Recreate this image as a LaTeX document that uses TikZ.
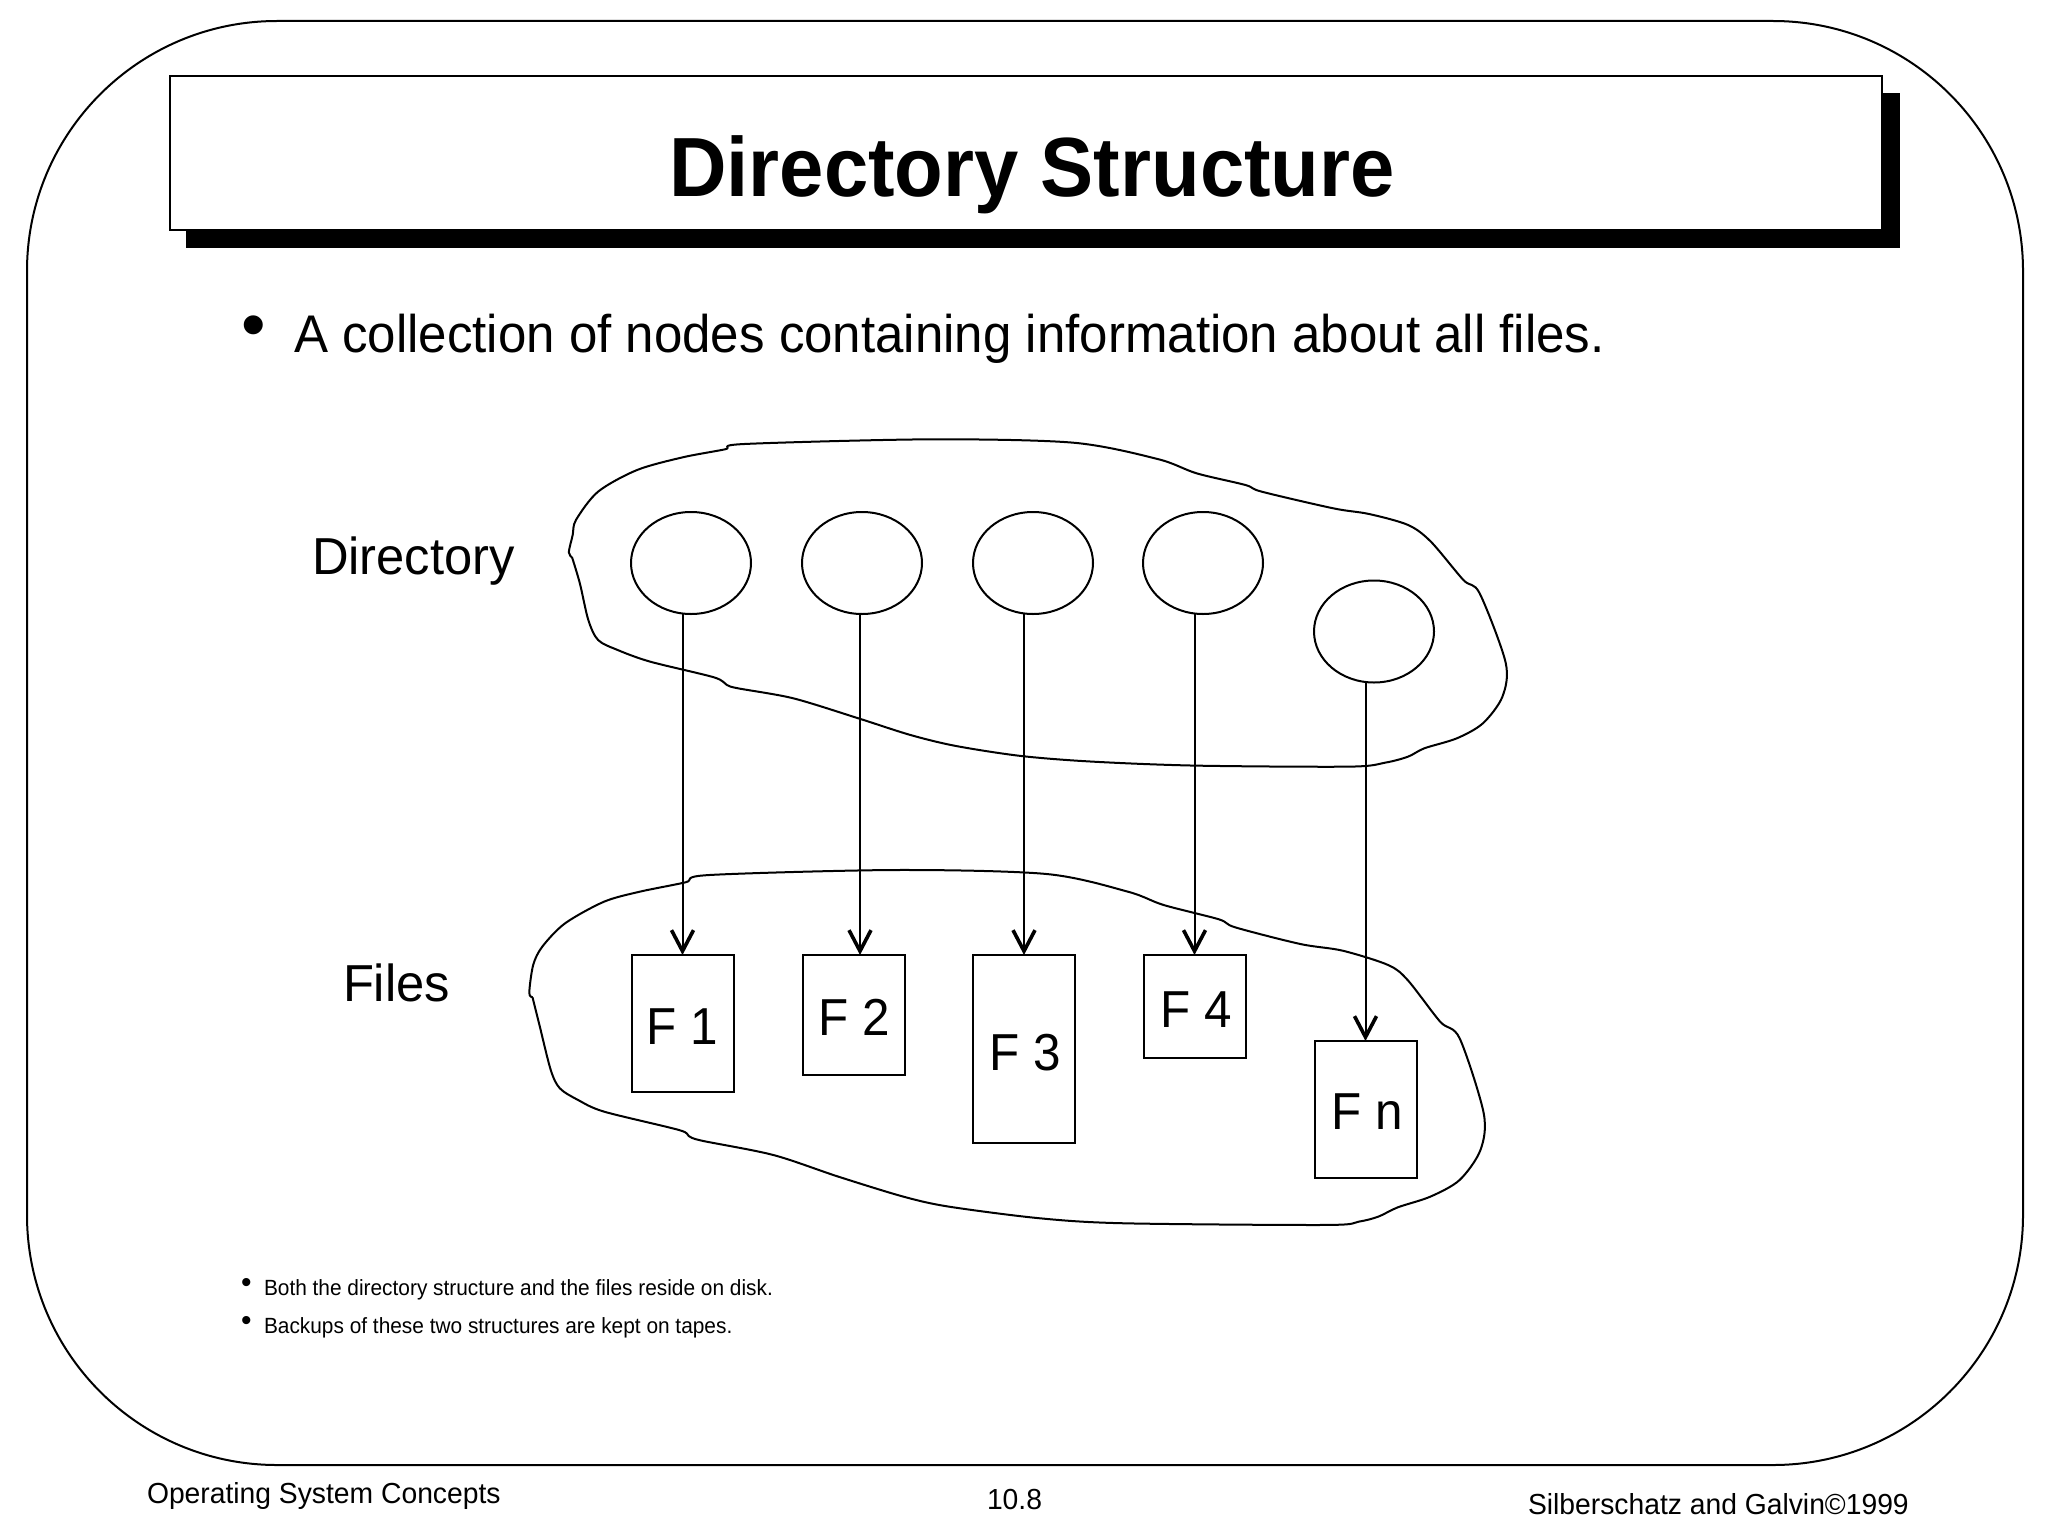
\documentclass[tikz,border=0pt]{standalone}
\usepackage{fontspec}
\setmainfont{Liberation Sans}
\usetikzlibrary{shapes.geometric,arrows.meta}
\newcommand{\fsz}[2]{\fontsize{#1}{#1}\selectfont\addfontfeature{FakeStretch=#2}}
\tikzset{
  txt/.style={inner sep=0pt,outer sep=0pt,anchor=base west},
  ctxt/.style={inner sep=0pt,outer sep=0pt,anchor=base,font=\fsz{52}{0.95}},
  dirnode/.style={ellipse,draw,line width=2pt,minimum width=120pt,minimum height=102pt,inner sep=0pt,outer sep=0pt},
  filebox/.style={rectangle,draw,line width=2pt,inner sep=0pt,outer sep=0pt,minimum width=102pt},
  link/.style={line width=2pt,-{Straight Barb[length=21pt,width=22pt,line width=3.6pt]}},
  framed/.style={line width=2pt}
}
\begin{document}
\begin{tikzpicture}[x=1pt,y=-1pt]
\useasboundingbox (0,0) rectangle (2048,1536);
\fill[white] (0,0) rectangle (2048,1536);
\draw[framed,rounded corners=250pt] (27,21) rectangle (2023,1465);
% title
\fill[black] (185.5,93) rectangle (1900,248);
\draw[framed,fill=white] (169.5,76.5) rectangle (1881.5,229.5);
\node[inner sep=0pt,anchor=base,font=\bfseries\fsz{84}{0.948}] (title) at (1032,196) {Directory Structure};
% main bullet
\node[txt,font=\fsz{70}{1}] (b0) at (241,348) {•};
\node[txt,font=\fsz{53}{0.963}] (t0) at (294,352.5) {A collection of nodes containing information about all files.};
\node[txt,font=\fsz{52}{0.975}] (ldir) at (312,574) {Directory};
\node[txt,font=\fsz{52}{0.975}] (lfil) at (343,1001) {Files};
% blobs
\draw[framed,shift={(520pt,-420pt)},x=0.6506pt,y=-0.3333pt]
 plot[smooth,tension=0.5] coordinates {(80,412) (75,397) (81,345) (86,300) (120,215) (180,150) (250,112) (315,88) (345,72) (630,58) (850,68) (980,117) (1040,160) (1115,195) (1140,215) (1250,265) (1305,282) (1365,315) (1400,365) (1450,480) (1475,520) (1515,728) (1510,830) (1480,910) (1440,955) (1390,985) (1365,1010) (1330,1028) (1275,1040) (1040,1037) (880,1025) (770,1008) (670,978) (600,945) (520,895) (420,835) (335,805) (318,795) (298,772) (200,725) (150,690) (120,660) (105,600) (92,490) (80,412)};
\draw[framed,shift={(500pt,-850pt)},x=0.6506pt,y=-0.3333pt]
 plot[smooth,tension=0.5] coordinates {(50,442) (45,428) (51,345) (65,290) (100,220) (160,155) (215,125) (285,97) (322,75) (610,60) (840,72) (965,125) (1020,165) (1105,208) (1130,232) (1230,282) (1295,302) (1365,345) (1395,390) (1445,515) (1475,565) (1512,790) (1507,900) (1475,990) (1430,1040) (1380,1072) (1350,1100) (1320,1115) (1270,1125) (960,1120) (830,1105) (690,1070) (620,1040) (520,980) (420,915) (310,872) (290,858) (275,840) (160,785) (120,750) (92,715) (78,660) (60,520) (50,442)};
% directory entries
\node[dirnode] (e1) at (691,563) {};
\node[dirnode] (e2) at (862,563) {};
\node[dirnode] (e3) at (1033,563) {};
\node[dirnode] (e4) at (1203,563) {};
\node[dirnode] (e5) at (1374,631.5) {};
% files
\node[filebox,minimum height=137pt] (f1) at (682.5,1023.5) {};
\node[filebox,minimum height=120pt] (f2) at (853.5,1015) {};
\node[filebox,minimum height=188pt] (f3) at (1024,1049) {};
\node[filebox,minimum height=103pt] (f4) at (1194.5,1006.5) {};
\node[filebox,minimum height=137pt] (f5) at (1365.5,1109.5) {};
\node[ctxt] (l1) at (682,1044) {F 1};
\node[ctxt] (l2) at (854,1035) {F 2};
\node[ctxt] (l3) at (1025,1070) {F 3};
\node[ctxt] (l4) at (1196,1027) {F 4};
\node[ctxt] (l5) at (1367,1129) {F n};
\coordinate (t2) at (860,955);
% links
\draw[link] (e1.south -| f1.north) -- (f1.north);
\draw[link] (t2 |- e2.south) -- (t2);
\draw[link] (e3.south -| f3.north) -- (f3.north);
\draw[link] (e4.south -| f4.north) -- (f4.north);
\draw[link] (e5.south -| f5.north) -- (f5.north);
% notes
\node[txt,font=\fsz{30}{1}] (b1) at (241,1292) {•};
\node[txt,font=\fsz{22}{0.948}] (t1) at (264,1295) {Both the directory structure and the files reside on disk.};
\node[txt,font=\fsz{30}{1}] (b2) at (241,1330) {•};
\node[txt,font=\fsz{22}{0.948}] (t2b) at (264,1333) {Backups of these two structures are kept on tapes.};
% footer
\node[txt,font=\fsz{29}{0.975}] (fl) at (147,1503) {Operating System Concepts};
\node[txt,font=\fsz{29}{0.975}] (fm) at (987,1509) {10.8};
\node[txt,font=\fsz{29}{0.975}] (fr) at (1528,1514) {Silberschatz and Galvin©1999};
\end{tikzpicture}
\end{document}
